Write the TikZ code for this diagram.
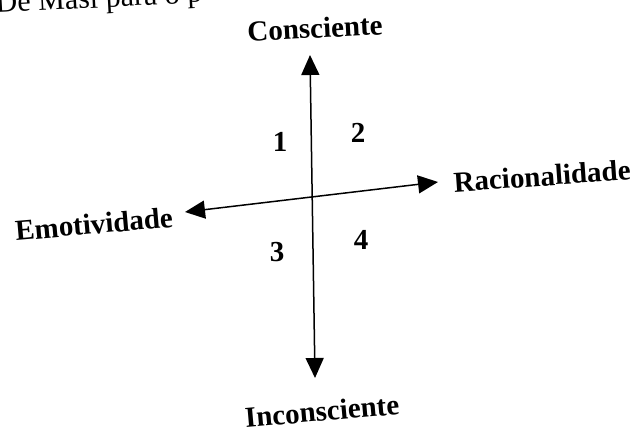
\documentclass[tikz,border=0pt]{standalone}
\usepackage{fontspec}
\setmainfont{Liberation Serif}
\usepackage{tikz}
\usetikzlibrary{arrows.meta}

\begin{document}
\begin{tikzpicture}[
    x=1pt, y=1pt,
    axislbl/.style={font=\fontsize{29}{32}\selectfont\bfseries, inner sep=0pt},
    quad/.style={font=\fontsize{29}{32}\selectfont\bfseries, inner sep=0pt},
    axisarr/.style={{Triangle[length=20pt,width=18pt]}-{Triangle[length=20pt,width=18pt]},
                    line width=1.5pt, black},
  ]
    \useasboundingbox (0,0) rectangle (642,434);

    % Caption line cut off by the scan
    \node[font=\fontsize{30}{33}\selectfont, inner sep=0pt, anchor=base west,
          rotate=3] (HEAD) at (-4,421) {De Masi para o p};

    % Axis labels
    \node[axislbl, rotate=3] (CONS) at (315,406) {Consciente};
    \node[axislbl, rotate=5] (INCONS) at (322,23) {Inconsciente};
    \node[axislbl, rotate=5] (EMO) at (94,210) {Emotividade};
    \node[axislbl, rotate=4] (RAC) at (542,258) {Racionalidade};

    % Arrow tips
    \coordinate (UP) at (310,379);
    \coordinate (DOWN) at (315,56);
    \coordinate (LEFT) at (185,222);
    \coordinate (RIGHT) at (438,252);

    % Axes
    \draw[axisarr] (DOWN) -- (UP);
    \draw[axisarr] (LEFT) -- (RIGHT);

    % Quadrants
    \node[quad] (Q1) at (280,292) {1};
    \node[quad] (Q2) at (358,301) {2};
    \node[quad] (Q3) at (277,182) {3};
    \node[quad] (Q4) at (361,194) {4};
\end{tikzpicture}
\end{document}
